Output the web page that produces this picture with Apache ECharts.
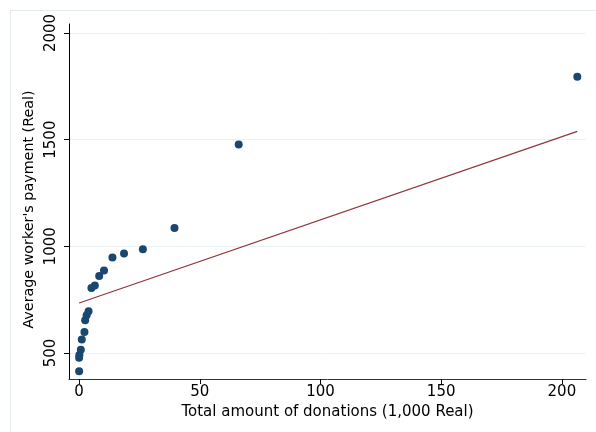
<!DOCTYPE html>
<html>
<head>
<meta charset="utf-8">
<script src="https://cdn.jsdelivr.net/npm/echarts@6/dist/echarts.min.js"></script>
<style>html,body{margin:0;padding:0;background:#fff}#c{width:596px;height:432px}</style>
</head>
<body>
<div id="c"></div>
<script>
// Scatter data: total donations (1,000 Real) vs average worker's payment (Real)
var donations = [0, 0, 0.1, 0.7, 1.1, 2.2, 2.5, 3.1, 3.9, 5.1, 6.5, 8.3, 10.3, 13.8, 18.6, 26.4, 39.5, 66.1, 206.4];
var payments  = [414, 478, 490, 515, 563, 598, 653, 677, 695, 805, 816, 861, 887, 948, 966, 986, 1086, 1477, 1795];
// Fitted line endpoints
var fitX = [0, 206.4];
var fitY = [734, 1539];
var xTicks = [0, 50, 100, 150, 200];
var yTicks = [500, 1000, 1500, 2000];
var xTitle = 'Total amount of donations (1,000 Real)';
var yTitle = "Average worker's payment (Real)";

var scatterData = donations.map(function (d, i) { return [d, payments[i]]; });
var fitData = fitX.map(function (d, i) { return [d, fitY[i]]; });

var font = 'DejaVu Sans';
var chart = echarts.init(document.getElementById('c'), null, {renderer: 'canvas'});
chart.setOption({
  animation: false,
  backgroundColor: '#ffffff',
  textStyle: {fontFamily: font},
  graphic: [{
    type: 'rect', silent: true, z: -10,
    shape: {x: 10.5, y: 10.5, width: 700, height: 600},
    style: {fill: '#ffffff', stroke: '#e3ebee', lineWidth: 1}
  }],
  grid: {left: 69, top: 24, right: 10, bottom: 53, containLabel: false},
  xAxis: {
    type: 'value', min: -4.2, max: 210,
    name: xTitle, nameLocation: 'middle', nameGap: 23,
    nameTextStyle: {fontFamily: font, fontSize: 15, color: '#000'},
    axisLine: {show: true, onZero: false, lineStyle: {color: '#333', width: 1}},
    axisTick: {show: true, length: 5, customValues: xTicks, lineStyle: {color: '#000'}},
    axisLabel: {customValues: xTicks, margin: 6, fontFamily: font, fontSize: 15, color: '#000',
      formatter: function (v) { return String(v); }},
    splitLine: {show: false}
  },
  yAxis: {
    type: 'value', min: 378, max: 2042,
    name: yTitle, nameLocation: 'middle', nameGap: 19, nameRotate: 90,
    nameTextStyle: {fontFamily: font, fontSize: 14.3, color: '#000', padding: [0, 16, 0, 0]},
    axisLine: {show: true, onZero: false, lineStyle: {color: '#000', width: 1}},
    axisTick: {show: true, length: 5, customValues: yTicks, lineStyle: {color: '#000'}},
    axisLabel: {customValues: yTicks, rotate: 90, margin: 10, fontFamily: font, fontSize: 15, color: '#000',
      formatter: function (v) { return String(v); }},
    splitLine: {show: true, lineStyle: {color: '#eaf2f3', width: 1}}
  },
  series: [{
    type: 'scatter', data: scatterData, symbol: 'circle', symbolSize: 8,
    itemStyle: {color: '#1a476f', opacity: 1}, z: 3
  }, {
    type: 'line', data: fitData, showSymbol: false, symbol: 'none',
    lineStyle: {color: '#90353b', width: 1.2}, itemStyle: {color: '#90353b'}, z: 2
  }]
});
</script>
</body>
</html>
